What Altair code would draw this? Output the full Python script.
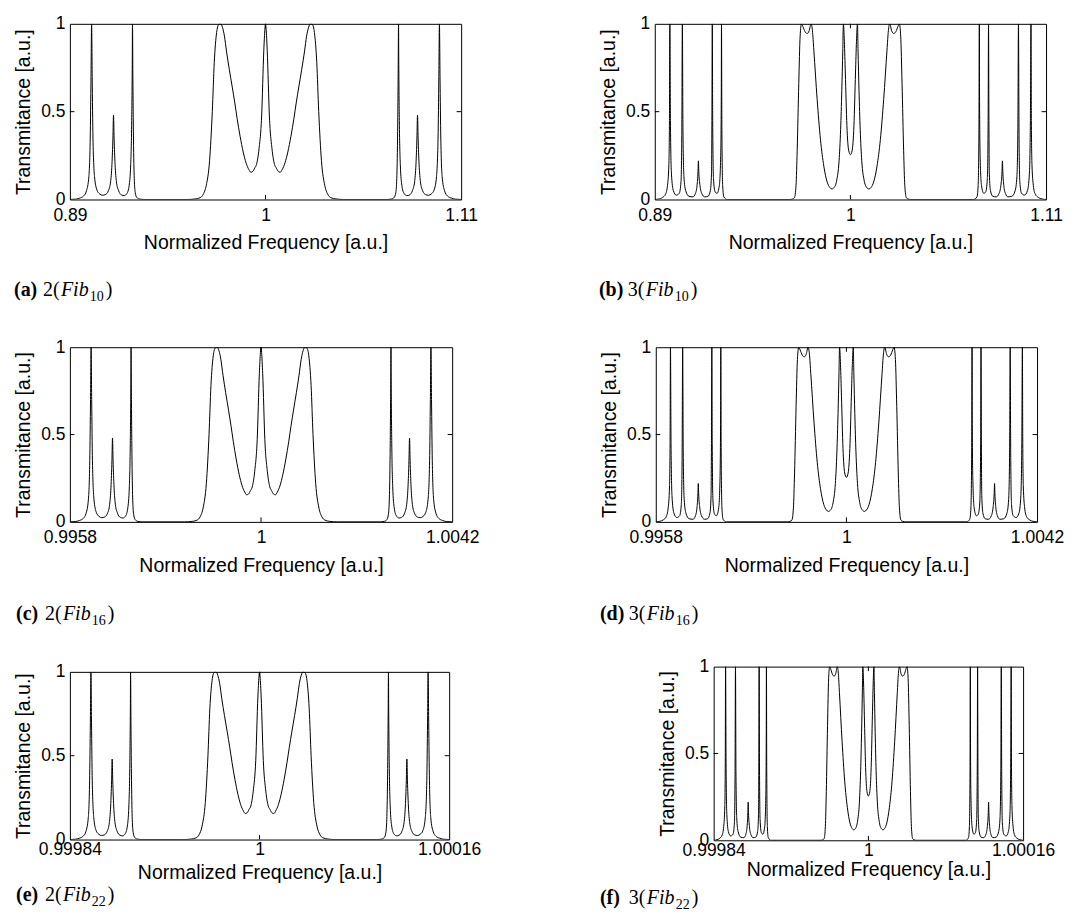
import altair as alt
import pandas as pd

# ---------------- data ----------------
# x positions are given as a fraction of each panel's half-span around f = 1
pos_2fib = [
    -1.0, -0.97, -0.95, -0.93, -0.915, -0.903, -0.896, -0.892, -0.889, -0.886, -0.882, -0.874, -0.862,
    -0.848, -0.833, -0.818, -0.803, -0.792, -0.785, -0.780, -0.777, -0.774, -0.769, -0.762, -0.751,
    -0.736, -0.722, -0.708, -0.697, -0.689, -0.684, -0.681, -0.680, -0.678, -0.675, -0.671, -0.666, -0.658, -0.645, -0.62,
    -0.40, -0.36, -0.335, -0.318, -0.303, -0.286, -0.272, -0.262, -0.250, -0.240, -0.230, -0.220, -0.210,
    -0.199, -0.185, -0.170, -0.157, -0.145, -0.130, -0.114, -0.100, -0.085, -0.075,
    -0.065, -0.055, -0.046, -0.033, -0.020, -0.0087, -0.003, 0.0,
    0.003, 0.0087, 0.020, 0.033, 0.046, 0.055, 0.065,
    0.075, 0.085, 0.100, 0.114, 0.130, 0.145, 0.157, 0.170, 0.185, 0.199,
    0.210, 0.220, 0.230, 0.240, 0.250, 0.262, 0.272, 0.286, 0.303, 0.318, 0.335, 0.36, 0.40,
    0.62, 0.645, 0.658, 0.666, 0.671, 0.675, 0.678, 0.680, 0.681, 0.684, 0.689, 0.697, 0.708, 0.722, 0.736,
    0.751, 0.762, 0.769, 0.774, 0.777, 0.780, 0.785, 0.792, 0.803, 0.818, 0.833, 0.848,
    0.862, 0.874, 0.882, 0.886, 0.889, 0.892, 0.896, 0.903, 0.915, 0.93, 0.95, 0.97, 1.0,
]
trans_2fib = [
    0.0, 0.002, 0.008, 0.02, 0.05, 0.13, 0.35, 0.7, 1.0, 0.7, 0.35, 0.13, 0.055,
    0.032, 0.024, 0.028, 0.05, 0.1, 0.2, 0.35, 0.48, 0.35, 0.2, 0.1, 0.05,
    0.026, 0.022, 0.035, 0.08, 0.2, 0.45, 0.8, 1.0, 0.7, 0.35, 0.12, 0.04, 0.012, 0.003, 0.0,
    0.0, 0.003, 0.01, 0.03, 0.08, 0.22, 0.5, 0.78, 0.95, 0.995, 1.0, 0.98, 0.93,
    0.84, 0.74, 0.64, 0.55, 0.46, 0.36, 0.27, 0.21, 0.17, 0.155,
    0.16, 0.18, 0.2, 0.29, 0.47, 0.85, 0.97, 1.0,
    0.97, 0.85, 0.47, 0.29, 0.2, 0.18, 0.16,
    0.155, 0.17, 0.21, 0.27, 0.36, 0.46, 0.55, 0.64, 0.74, 0.84,
    0.93, 0.98, 1.0, 0.995, 0.95, 0.78, 0.5, 0.22, 0.08, 0.03, 0.01, 0.003, 0.0,
    0.0, 0.003, 0.012, 0.04, 0.12, 0.35, 0.7, 1.0, 0.8, 0.45, 0.2, 0.08, 0.035, 0.022, 0.026,
    0.05, 0.1, 0.2, 0.35, 0.48, 0.35, 0.2, 0.1, 0.05, 0.028, 0.024, 0.032,
    0.055, 0.13, 0.35, 0.7, 1.0, 0.7, 0.35, 0.13, 0.05, 0.02, 0.008, 0.002, 0.0,
]

pos_3fib = [
    -1.0, -0.98, -0.96, -0.945, -0.935, -0.928, -0.925, -0.923, -0.920, -0.915, -0.905,
    -0.89, -0.875, -0.866, -0.862, -0.859, -0.856, -0.851, -0.842,
    -0.825, -0.805, -0.792, -0.784, -0.779, -0.777, -0.775, -0.769, -0.760,
    -0.745, -0.728, -0.716, -0.710, -0.708, -0.706, -0.704, -0.700, -0.692,
    -0.682, -0.670, -0.663, -0.660, -0.659, -0.657, -0.653, -0.647, -0.63,
    -0.31, -0.295, -0.286, -0.278, -0.272, -0.264, -0.257, -0.250, -0.243, -0.232, -0.221, -0.211,
    -0.201, -0.194, -0.187, -0.170, -0.153, -0.136, -0.119, -0.105, -0.095, -0.082, -0.070,
    -0.058, -0.050, -0.044, -0.039, -0.036, -0.031, -0.026, -0.018, -0.009, 0.0,
    0.009, 0.018, 0.026, 0.031, 0.036, 0.039, 0.044, 0.050, 0.058,
    0.070, 0.082, 0.095, 0.105, 0.119, 0.136, 0.153, 0.170, 0.187, 0.194, 0.201,
    0.211, 0.221, 0.232, 0.243, 0.250, 0.257, 0.264, 0.272, 0.278, 0.286, 0.295, 0.31,
    0.63, 0.647, 0.653, 0.657, 0.659, 0.660, 0.663, 0.670, 0.682,
    0.692, 0.700, 0.704, 0.706, 0.708, 0.710, 0.716, 0.728, 0.745,
    0.760, 0.769, 0.775, 0.777, 0.779, 0.784, 0.792, 0.805, 0.825,
    0.842, 0.851, 0.856, 0.859, 0.862, 0.866, 0.875, 0.89,
    0.905, 0.915, 0.920, 0.923, 0.925, 0.928, 0.935, 0.945, 0.96, 0.98, 1.0,
]
trans_3fib = [
    0.0, 0.003, 0.012, 0.03, 0.08, 0.2, 0.45, 1.0, 0.45, 0.15, 0.05,
    0.025, 0.035, 0.1, 0.35, 1.0, 0.4, 0.13, 0.05,
    0.018, 0.015, 0.035, 0.08, 0.16, 0.22, 0.16, 0.08, 0.035,
    0.015, 0.018, 0.05, 0.15, 0.45, 1.0, 0.45, 0.12, 0.045,
    0.035, 0.08, 0.25, 0.6, 1.0, 0.4, 0.08, 0.015, 0.0,
    0.0, 0.003, 0.01, 0.08, 0.28, 0.66, 0.93, 1.0, 0.985, 0.955, 0.945, 0.96,
    1.0, 0.96, 0.85, 0.57, 0.34, 0.19, 0.10, 0.068, 0.06, 0.07, 0.11,
    0.22, 0.40, 0.62, 0.85, 1.0, 0.9, 0.72, 0.42, 0.28, 0.255,
    0.28, 0.42, 0.72, 0.9, 1.0, 0.85, 0.62, 0.40, 0.22,
    0.11, 0.07, 0.06, 0.068, 0.10, 0.19, 0.34, 0.57, 0.85, 0.96, 1.0,
    0.96, 0.945, 0.955, 0.985, 1.0, 0.93, 0.66, 0.28, 0.08, 0.01, 0.003, 0.0,
    0.0, 0.015, 0.08, 0.4, 1.0, 0.6, 0.25, 0.08, 0.035,
    0.045, 0.12, 0.45, 1.0, 0.45, 0.15, 0.05, 0.018, 0.015,
    0.035, 0.08, 0.16, 0.22, 0.16, 0.08, 0.035, 0.015, 0.018,
    0.05, 0.13, 0.4, 1.0, 0.35, 0.1, 0.035, 0.025,
    0.05, 0.15, 0.45, 1.0, 0.45, 0.2, 0.08, 0.03, 0.012, 0.003, 0.0,
]

panel_letters = ["a", "b", "c", "d", "e", "f"]
panel_copies = ["2", "3", "2", "3", "2", "3"]
panel_fib = ["10", "10", "16", "16", "22", "22"]
half_span = [0.11, 0.11, 0.0042, 0.0042, 0.00016, 0.00016]
x_lo = [0.89, 0.89, 0.9958, 0.9958, 0.99984, 0.99984]
x_hi = [1.11, 1.11, 1.0042, 1.0042, 1.00016, 1.00016]
x_mid = [1, 1, 1, 1, 1, 1]
y_ticks = [0, 0.5, 1]

# ---------------- layout ----------------
plot_w = [392, 392, 383, 382, 380, 310]
plot_h = [176, 176, 175, 175, 168, 174]
x_label_pad = [7, 7, 7, 7, 1, 1]
x_title_pad = [10, 10, 10, 10, 6, 2]
cap_dx = [-56, -56, -54, -56, -54, -114]
cap_dy = [272.5, 272.5, 273, 273, 230, 238]
row_spacing = [120, 119, 117]

LABEL_FONT = "Liberation Sans"
CAP_FONT = "Liberation Serif"
one = pd.DataFrame({"k": [0]})


def caption_layers(i):
    pieces = [
        ("(" + panel_letters[i] + ")", "bold", "normal", 20, 0, 0),
        (panel_copies[i] + "(", "normal", "normal", 20, 29, 0),
        ("Fib", "normal", "italic", 20, 47, 0),
        (panel_fib[i], "normal", "normal", 14, 76, 5),
        (")", "normal", "normal", 20, 92, 0),
    ]
    out = []
    for text, weight, style, size, ox, oy in pieces:
        out.append(
            alt.Chart(one).mark_text(
                text=text, font=CAP_FONT, fontSize=size, fontWeight=weight,
                fontStyle=style, align="left", baseline="alphabetic", color="black",
            ).encode(x=alt.value(cap_dx[i] + ox), y=alt.value(cap_dy[i] + oy))
        )
    return out


def panel(i):
    W, H = plot_w[i], plot_h[i]
    if panel_copies[i] == "2":
        pos, tr = pos_2fib, trans_2fib
    else:
        pos, tr = pos_3fib, trans_3fib
    df = pd.DataFrame({"f": [1 + p * half_span[i] for p in pos], "t": tr})
    xs = alt.Scale(domain=[x_lo[i], x_hi[i]], nice=False, zero=False)
    ys = alt.Scale(domain=[0, 1], nice=False, zero=False)
    xax = alt.Axis(values=[x_lo[i], x_mid[i], x_hi[i]], format=".6~g",
                   title="Normalized Frequency [a.u.]", labelPadding=x_label_pad[i],
                   titlePadding=x_title_pad[i])
    yax = alt.Axis(values=y_ticks, format=".3~g", title="Transmitance [a.u.]",
                   labelPadding=5, titlePadding=7)
    X = alt.X("f:Q", scale=xs, axis=xax)
    Y = alt.Y("t:Q", scale=ys, axis=yax)
    line = alt.Chart(df).mark_line(
        color="black", strokeWidth=1, interpolate="monotone", clip=True
    ).encode(x=X, y=Y)
    xt = pd.DataFrame({"f": [x_mid[i]]})
    yt = pd.DataFrame({"t": [0.5]})
    tl = 4.5
    tick_b = alt.Chart(xt).mark_rule(color="black", strokeWidth=1).encode(
        x=X, y=alt.value(H), y2=alt.value(H - tl))
    tick_t = alt.Chart(xt).mark_rule(color="black", strokeWidth=1).encode(
        x=X, y=alt.value(0), y2=alt.value(tl))
    tick_l = alt.Chart(yt).mark_rule(color="black", strokeWidth=1).encode(
        y=Y, x=alt.value(0), x2=alt.value(tl))
    tick_r = alt.Chart(yt).mark_rule(color="black", strokeWidth=1).encode(
        y=Y, x=alt.value(W - tl), x2=alt.value(W))
    return alt.layer(line, tick_b, tick_t, tick_l, tick_r, *caption_layers(i)).properties(
        width=W, height=H)


P = [panel(i) for i in range(6)]

# small empty view above panel (e): lowers it a few pixels relative to panel (f)
spacer = alt.Chart(one).mark_point(opacity=0).encode(
    x=alt.value(0), y=alt.value(0)
).properties(width=1, height=1, view=alt.ViewBackground(stroke="transparent"))
col_e = alt.vconcat(spacer, P[4], spacing=-8.75)

row1 = alt.hconcat(P[0], P[1], spacing=row_spacing[0])
row2 = alt.hconcat(P[2], P[3], spacing=row_spacing[1])
row3 = alt.hconcat(col_e, P[5], spacing=row_spacing[2])
lower = alt.vconcat(row2, row3, spacing=28)
chart = alt.vconcat(row1, lower, spacing=33).configure_view(
    stroke="black", strokeWidth=1
).configure_axis(
    labelFont=LABEL_FONT, titleFont=LABEL_FONT, labelFontSize=17.5, titleFontSize=19.5,
    labelColor="black", titleColor="black", titleFontWeight="normal",
    grid=False, ticks=False, domain=False, labelFlush=False, labelOverlap=False,
    labelBound=False,
).properties(background="white")

chart.save("out.html", embed_options={"renderer": "svg", "actions": False})
